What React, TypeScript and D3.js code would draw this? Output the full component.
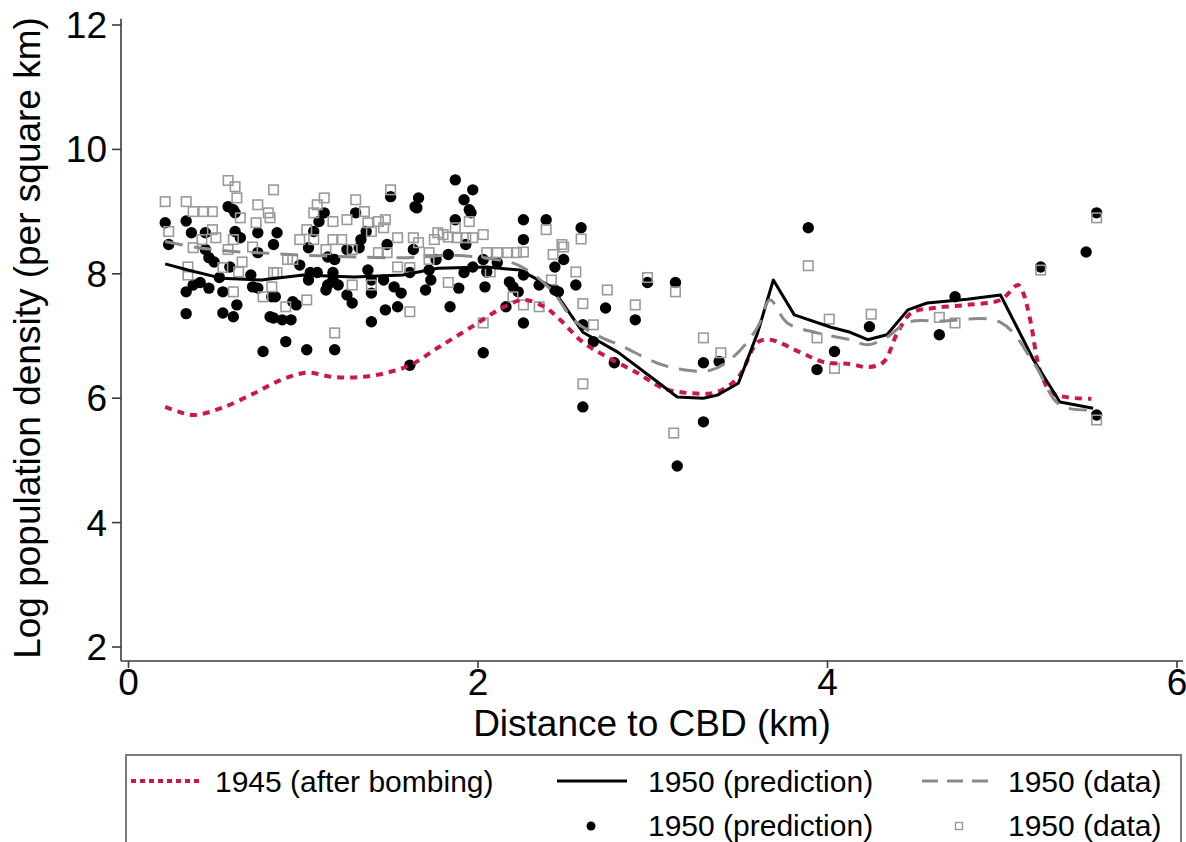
import React, { useEffect } from "react";
import * as d3 from "d3";

// ---------- data ----------
const xTicks = [0, 2, 4, 6];
const yTicks = [2, 4, 6, 8, 10, 12];

const line1945: [number, number][] = [
  [0.21, 5.86], [0.3, 5.77], [0.38, 5.73], [0.53, 5.84], [0.72, 6.08], [0.87, 6.29],
  [1.02, 6.41], [1.17, 6.34], [1.33, 6.34], [1.48, 6.41], [1.61, 6.53], [1.77, 6.81],
  [1.96, 7.14], [2.15, 7.47], [2.26, 7.58], [2.38, 7.47], [2.47, 7.26], [2.6, 6.9],
  [2.74, 6.66], [2.91, 6.41], [3.06, 6.16], [3.22, 6.08], [3.37, 6.1], [3.49, 6.34],
  [3.6, 6.9], [3.67, 6.94], [3.85, 6.73], [3.98, 6.58], [4.13, 6.55], [4.23, 6.5],
  [4.32, 6.58], [4.4, 7.05], [4.48, 7.37], [4.61, 7.45], [4.8, 7.5], [4.99, 7.58],
  [5.09, 7.82], [5.12, 7.69], [5.16, 7.26], [5.22, 6.41], [5.29, 6.08], [5.51, 5.99],
];

const line1950Pred: [number, number][] = [
  [0.21, 8.16], [0.34, 8.06], [0.53, 7.93], [0.76, 7.9], [1.0, 7.98], [1.29, 7.95],
  [1.57, 7.98], [1.77, 8.09], [2.05, 8.11], [2.24, 8.06], [2.42, 7.79], [2.6, 7.06],
  [2.8, 6.74], [2.99, 6.34], [3.14, 6.02], [3.29, 6.0], [3.37, 6.05], [3.49, 6.24],
  [3.6, 7.05], [3.69, 7.9], [3.81, 7.34], [4.02, 7.14], [4.13, 7.06], [4.23, 6.94],
  [4.34, 7.02], [4.46, 7.42], [4.57, 7.53], [4.8, 7.59], [4.99, 7.66], [5.18, 6.61],
  [5.33, 5.94], [5.52, 5.84],
];

const line1950Data: [number, number][] = [
  [0.21, 8.52], [0.4, 8.42], [0.6, 8.36], [0.8, 8.33], [1.0, 8.3], [1.3, 8.27],
  [1.6, 8.26], [1.84, 8.3], [2.05, 8.25], [2.23, 8.14], [2.42, 7.74], [2.55, 7.25],
  [2.69, 7.0], [2.83, 6.83], [3.02, 6.57], [3.17, 6.46], [3.33, 6.45], [3.46, 6.66],
  [3.6, 7.14], [3.67, 7.58], [3.77, 7.21], [3.94, 7.05], [4.13, 6.94], [4.23, 6.86],
  [4.34, 6.98], [4.46, 7.22], [4.65, 7.24], [4.99, 7.22], [5.18, 6.57], [5.33, 5.89],
  [5.52, 5.81],
];

const dots1950Pred: [number, number][] = [
  [0.21, 8.82], [0.23, 8.47], [0.33, 8.85], [0.36, 8.66], [0.44, 8.66], [0.44, 8.39],
  [0.46, 8.26], [0.49, 8.19], [0.57, 9.08], [0.6, 9.03], [0.61, 8.98], [0.61, 8.68],
  [0.64, 8.58], [0.58, 8.11], [0.33, 7.71], [0.37, 7.82], [0.41, 7.86], [0.46, 7.77],
  [0.54, 7.71], [0.52, 7.94], [0.7, 7.98], [0.71, 7.79], [0.74, 7.77], [0.62, 7.5],
  [0.54, 7.37], [0.6, 7.31], [0.33, 7.36], [0.77, 6.75], [0.74, 8.66], [0.81, 7.31],
  [0.82, 7.63], [0.74, 8.34], [0.85, 8.66], [0.83, 8.47], [0.84, 7.63], [0.83, 7.29],
  [0.88, 7.26], [0.93, 7.26], [0.9, 6.91], [1.02, 6.78], [1.18, 6.78], [0.94, 7.55],
  [0.96, 7.5], [0.98, 8.14], [1.03, 7.9], [1.04, 8.02], [1.08, 8.02], [1.09, 8.84],
  [1.12, 8.98], [1.06, 8.68], [1.03, 8.42], [1.13, 7.74], [1.14, 7.82], [1.17, 7.9],
  [1.17, 8.02], [1.2, 7.82], [1.25, 7.66], [1.28, 7.53], [1.3, 8.98], [1.32, 8.42],
  [1.33, 8.55], [1.36, 8.68], [1.37, 8.06], [1.39, 7.9], [1.39, 7.69], [1.39, 7.23],
  [1.47, 7.42], [1.54, 7.47], [1.56, 7.69], [1.52, 7.79], [1.46, 7.9], [1.48, 8.47],
  [1.5, 9.24], [1.63, 8.39], [1.61, 8.02], [1.64, 9.08], [1.25, 8.39], [1.14, 8.27],
  [1.18, 8.23], [1.61, 6.53], [1.87, 9.51], [1.97, 9.35], [1.92, 9.19], [1.95, 9.03],
  [1.96, 8.98], [1.66, 9.22], [1.65, 9.06], [1.87, 8.87], [1.76, 8.23], [1.83, 8.31],
  [1.93, 8.47], [1.72, 8.06], [1.73, 7.9], [1.7, 7.74], [1.89, 7.77], [1.92, 8.02],
  [1.97, 8.11], [2.03, 8.23], [2.05, 8.03], [2.04, 7.79], [2.11, 8.18], [2.18, 7.87],
  [2.2, 7.79], [2.23, 7.71], [2.26, 8.87], [2.26, 8.55], [2.26, 7.98], [2.35, 7.82],
  [2.39, 8.87], [2.44, 7.74], [2.44, 8.11], [2.49, 8.23], [1.84, 7.47], [2.16, 7.47],
  [2.26, 7.21], [2.03, 6.73], [2.59, 8.74], [2.56, 7.82], [2.46, 7.71], [2.73, 7.45],
  [2.9, 7.26], [2.97, 7.86], [3.13, 7.86], [2.6, 7.18], [2.66, 6.91], [2.78, 6.57],
  [2.6, 5.86], [3.29, 6.57], [3.29, 5.62], [3.38, 6.59], [3.89, 8.74], [4.04, 6.75],
  [3.94, 6.46], [3.14, 4.91], [4.24, 7.15], [4.64, 7.02], [4.73, 7.63], [5.22, 8.11],
  [5.48, 8.35], [5.54, 8.98], [5.54, 5.73],
];

const squares1950Data: [number, number][] = [
  [0.21, 9.16], [0.33, 9.16], [0.37, 9.0], [0.43, 9.0], [0.48, 9.0], [0.57, 9.5],
  [0.61, 9.4], [0.62, 9.22], [0.64, 8.9], [0.74, 9.11], [0.73, 8.82], [0.23, 8.68],
  [0.42, 8.55], [0.48, 8.71], [0.5, 8.58], [0.37, 8.42], [0.57, 8.39], [0.6, 8.55],
  [0.71, 8.43], [0.65, 8.19], [0.34, 8.11], [0.34, 7.98], [0.63, 8.03], [0.54, 8.1],
  [0.6, 7.71], [0.77, 7.63], [0.83, 9.35], [0.8, 8.98], [0.83, 8.02], [0.81, 8.9],
  [1.12, 9.22], [1.08, 9.11], [1.06, 8.98], [1.17, 8.84], [1.3, 9.19], [1.35, 9.0],
  [1.25, 8.87], [1.37, 8.82], [1.43, 8.84], [1.47, 8.87], [1.5, 9.35], [1.02, 8.71],
  [0.98, 8.55], [1.06, 8.55], [1.17, 8.55], [1.22, 8.55], [1.28, 8.39], [1.39, 8.68],
  [1.46, 8.74], [1.54, 8.58], [1.63, 8.58], [0.91, 8.23], [0.94, 8.23], [0.85, 8.02],
  [0.82, 7.79], [1.02, 7.58], [0.9, 7.47], [1.28, 7.82], [1.39, 7.82], [1.43, 8.34],
  [1.54, 8.11], [1.61, 8.1], [1.61, 7.39], [1.18, 7.05], [1.48, 8.34], [1.13, 8.39],
  [1.95, 8.84], [1.87, 8.74], [1.77, 8.66], [1.8, 8.63], [1.83, 8.59], [1.75, 8.55],
  [1.88, 8.58], [1.93, 8.58], [1.97, 8.58], [2.03, 8.63], [1.66, 8.5], [1.72, 8.34],
  [1.72, 8.23], [2.05, 8.34], [2.11, 8.34], [2.17, 8.34], [2.22, 8.34], [2.26, 8.35],
  [2.39, 8.71], [2.43, 8.31], [2.48, 8.47], [1.83, 7.86], [2.07, 8.03], [2.42, 7.9],
  [2.26, 7.5], [2.35, 7.47], [2.03, 7.21], [2.2, 7.63], [2.59, 8.56], [2.49, 8.43],
  [2.56, 8.03], [2.6, 7.52], [2.74, 7.74], [2.9, 7.5], [2.97, 7.94], [3.13, 7.71],
  [2.66, 7.18], [2.6, 6.23], [3.29, 6.97], [3.12, 5.44], [3.39, 6.73], [3.89, 8.13],
  [4.01, 7.27], [3.94, 6.97], [4.04, 6.48], [4.25, 7.35], [4.64, 7.3], [4.73, 7.21],
  [5.22, 8.06], [5.54, 8.9], [5.54, 5.65],
];

const xTitle = "Distance to CBD (km)";
const yTitle = "Log population density (per square km)";
const legendLabels = ["1945 (after bombing)", "1950 (prediction)", "1950 (data)"];

// ---------- styles ----------
const FONT = "'Liberation Sans', Arial, Helvetica, sans-serif";
const RED = "#cc1847";
const GRAY_LINE = "#8a8a8a";
const SQ_STROKE = "#9a9a9a";
const AXIS = "#3c3c3c";

export default function App() {
  useEffect(() => {
    document.body.style.margin = "0";
  }, []);

  const W = 1186, H = 842;
  const x = d3.scaleLinear().domain([0, 6]).range([128.5, 1177]);
  const y = d3.scaleLinear().domain([2, 12]).range([647, 25]);

  const smooth = d3.line<[number, number]>().x(d => x(d[0])).y(d => y(d[1])).curve(d3.curveCatmullRom.alpha(0.5));
  const straight = d3.line<[number, number]>().x(d => x(d[0])).y(d => y(d[1]));

  const axisX0 = 121, axisY0 = 661;
  const sq = 9.5;

  return (
    <svg width={W} height={H} style={{ position: "absolute", left: 0, top: 0, background: "#fff" }} fontFamily={FONT}>
      <rect x={0} y={0} width={W} height={H} fill="#fff" />
      {/* scatter */}
      <g>
        {dots1950Pred.map((d, i) => (
          <circle key={"d" + i} cx={x(d[0])} cy={y(d[1])} r={5.7} fill="#000" />
        ))}
        {squares1950Data.map((d, i) => (
          <rect key={"s" + i} x={x(d[0]) - sq / 2} y={y(d[1]) - sq / 2} width={sq} height={sq}
            fill="none" stroke={SQ_STROKE} strokeWidth={1.6} />
        ))}
      </g>
      {/* lines */}
      <path d={smooth(line1945) || ""} fill="none" stroke={RED} strokeWidth={4} strokeDasharray="7 6" />
      <path d={straight(line1950Pred) || ""} fill="none" stroke="#000" strokeWidth={3} strokeLinejoin="round" />
      <path d={smooth(line1950Data) || ""} fill="none" stroke={GRAY_LINE} strokeWidth={3} strokeDasharray="18 11" />

      {/* axes */}
      <line x1={axisX0} x2={axisX0} y1={y(12.1)} y2={axisY0} stroke={AXIS} strokeWidth={1.6} />
      <line x1={axisX0} x2={1183} y1={axisY0} y2={axisY0} stroke={AXIS} strokeWidth={1.6} />
      {yTicks.map(t => (
        <g key={"yt" + t}>
          <line x1={axisX0 - 9} x2={axisX0} y1={y(t)} y2={y(t)} stroke={AXIS} strokeWidth={1.6} />
          <text x={107} y={y(t) + 13} textAnchor="end" fontSize={37} fill="#000">{t}</text>
        </g>
      ))}
      {xTicks.map(t => (
        <g key={"xt" + t}>
          <line x1={x(t)} x2={x(t)} y1={axisY0} y2={axisY0 + 7} stroke={AXIS} strokeWidth={1.6} />
          <text x={x(t)} y={695} textAnchor="middle" fontSize={37} fill="#000">{t}</text>
        </g>
      ))}
      <text x={652} y={736} textAnchor="middle" fontSize={37} fill="#000">{xTitle}</text>
      <text transform="translate(40,338) rotate(-90)" textAnchor="middle" fontSize={37} fill="#000">{yTitle}</text>

      {/* legend */}
      <rect x={126} y={755} width={1055} height={110} fill="#fff" stroke="#7a7a7a" strokeWidth={2} />
      <line x1={131} x2={201} y1={781} y2={781} stroke={RED} strokeWidth={4} strokeDasharray="5 4" />
      <text x={215} y={792} fontSize={30} fill="#000">{legendLabels[0]}</text>
      <line x1={557} x2={627} y1={781} y2={781} stroke="#000" strokeWidth={3} />
      <text x={648} y={792} fontSize={30} fill="#000">{legendLabels[1]}</text>
      <line x1={922} x2={993} y1={781} y2={781} stroke={GRAY_LINE} strokeWidth={3} strokeDasharray="16 9" />
      <text x={1008} y={792} fontSize={30} fill="#000">{legendLabels[2]}</text>
      <circle cx={591} cy={826} r={4.5} fill="#000" />
      <text x={648} y={836} fontSize={30} fill="#000">{legendLabels[1]}</text>
      <rect x={955.5} y={822.5} width={7} height={7} fill="none" stroke={SQ_STROKE} strokeWidth={1.4} />
      <text x={1008} y={836} fontSize={30} fill="#000">{legendLabels[2]}</text>
    </svg>
  );
}
